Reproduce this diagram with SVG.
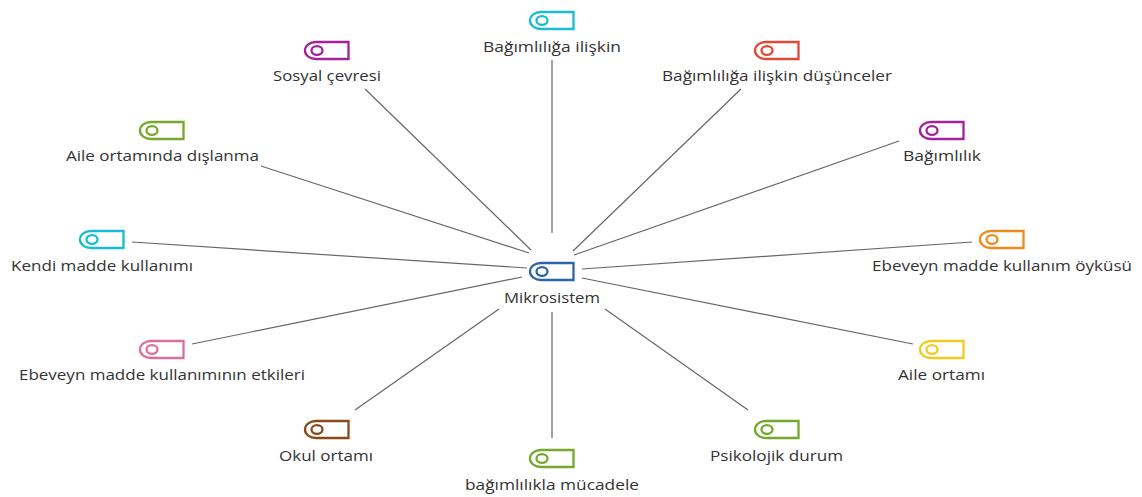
<svg xmlns="http://www.w3.org/2000/svg" xmlns:xlink="http://www.w3.org/1999/xlink" width="1142" height="497" viewBox="0 0 1142 497">
<style>
text{font-family:"Open Sans","Noto Sans","Liberation Sans",sans-serif;font-size:14.5px;fill:#333;text-anchor:middle;stroke:none}
.c line{stroke:#666;stroke-width:1.2}
.b{fill:#fff;stroke-width:2.3}
.o{fill:none;stroke-width:2.3}
</style>
<defs>
<g id="tag"><path class="b" d="M-11 -8.500H21.500V8.500H-11C-17 8.500 -22 5 -22 0C-22 -5 -17 -8.500 -11 -8.500Z"/><ellipse class="o" cx="-10" cy="0" rx="5.500" ry="4.300"/></g>
</defs>
<rect width="1142" height="497" fill="#fff"/>
<g class="c" id="connectors">
<line x1="552" y1="60" x2="552" y2="233"/>
<line x1="365" y1="89" x2="531" y2="250"/>
<line x1="741" y1="89" x2="573" y2="251"/>
<line x1="261" y1="166" x2="529" y2="253"/>
<line x1="899" y1="141" x2="574" y2="255"/>
<line x1="132" y1="242" x2="527" y2="268"/>
<line x1="972" y1="242" x2="582" y2="269"/>
<line x1="192" y1="344" x2="522" y2="277"/>
<line x1="913" y1="344" x2="582" y2="278"/>
<line x1="355" y1="410" x2="499" y2="309"/>
<line x1="748" y1="410" x2="605" y2="309"/>
<line x1="552" y1="438" x2="552" y2="312"/>
</g>
<g id="n0" stroke="#2b66a8"><use xlink:href="#tag" x="552" y="271.500"/><text x="552" y="303" textLength="96" lengthAdjust="spacingAndGlyphs">Mikrosistem</text></g>
<g id="n1" stroke="#17bdd0"><use xlink:href="#tag" x="552" y="20.500"/><text x="552" y="52" textLength="138" lengthAdjust="spacingAndGlyphs">Bağımlılığa ilişkin</text></g>
<g id="n2" stroke="#e04a38"><use xlink:href="#tag" x="777" y="50.500"/><text x="777" y="81" textLength="230" lengthAdjust="spacingAndGlyphs">Bağımlılığa ilişkin düşünceler</text></g>
<g id="n3" stroke="#a2229a"><use xlink:href="#tag" x="942" y="130.500"/><text x="942" y="161" textLength="78" lengthAdjust="spacingAndGlyphs">Bağımlılık</text></g>
<g id="n4" stroke="#f08a1e"><use xlink:href="#tag" x="1002" y="239.500"/><text x="1002" y="271" textLength="260" lengthAdjust="spacingAndGlyphs">Ebeveyn madde kullanım öyküsü</text></g>
<g id="n5" stroke="#f2cb1d"><use xlink:href="#tag" x="942" y="349.500"/><text x="941.500" y="380" textLength="87" lengthAdjust="spacingAndGlyphs">Aile ortamı</text></g>
<g id="n6" stroke="#75a82d"><use xlink:href="#tag" x="777" y="429.500"/><text x="776.500" y="461" textLength="133" lengthAdjust="spacingAndGlyphs">Psikolojik durum</text></g>
<g id="n7" stroke="#75a82d"><use xlink:href="#tag" x="552" y="458.500"/><text x="552" y="490" textLength="174" lengthAdjust="spacingAndGlyphs">bağımlılıkla mücadele</text></g>
<g id="n8" stroke="#8a4a1c"><use xlink:href="#tag" x="327" y="429.500"/><text x="326" y="461" textLength="94" lengthAdjust="spacingAndGlyphs">Okul ortamı</text></g>
<g id="n9" stroke="#d9709f"><use xlink:href="#tag" x="162" y="349.500"/><text x="162" y="380" textLength="286" lengthAdjust="spacingAndGlyphs">Ebeveyn madde kullanımının etkileri</text></g>
<g id="n10" stroke="#17bdd0"><use xlink:href="#tag" x="102" y="239.500"/><text x="102" y="271" textLength="182" lengthAdjust="spacingAndGlyphs">Kendi madde kullanımı</text></g>
<g id="n11" stroke="#75a82d"><use xlink:href="#tag" x="162" y="130.500"/><text x="162.500" y="161" textLength="193" lengthAdjust="spacingAndGlyphs">Aile ortamında dışlanma</text></g>
<g id="n12" stroke="#a2229a"><use xlink:href="#tag" x="327" y="50.500"/><text x="327" y="81" textLength="108" lengthAdjust="spacingAndGlyphs">Sosyal çevresi</text></g>
</svg>
